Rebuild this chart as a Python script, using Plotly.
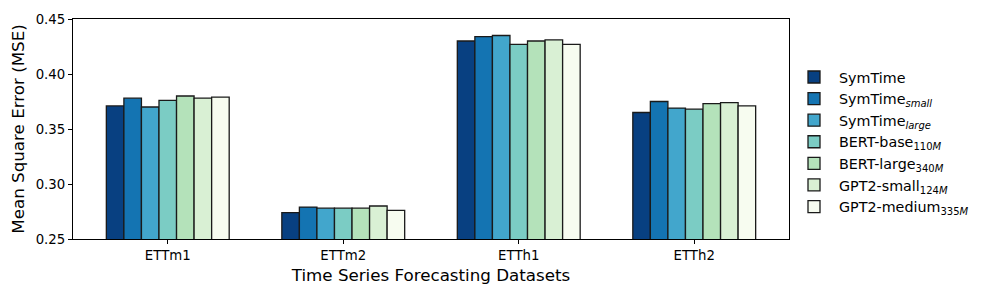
import plotly.graph_objects as go

datasets = ["ETTm1", "ETTm2", "ETTh1", "ETTh2"]
model_names = [
    "SymTime",
    "SymTime<sub><i>small</i></sub>",
    "SymTime<sub><i>large</i></sub>",
    "BERT-base<sub>110<i>M</i></sub>",
    "BERT-large<sub>340<i>M</i></sub>",
    "GPT2-small<sub>124<i>M</i></sub>",
    "GPT2-medium<sub>335<i>M</i></sub>",
]
symtime = [0.371, 0.274, 0.430, 0.365]
symtime_small = [0.378, 0.279, 0.434, 0.375]
symtime_large = [0.370, 0.278, 0.435, 0.369]
bert_base = [0.376, 0.278, 0.427, 0.368]
bert_large = [0.380, 0.278, 0.430, 0.373]
gpt2_small = [0.378, 0.280, 0.431, 0.374]
gpt2_medium = [0.379, 0.276, 0.427, 0.371]
series = [symtime, symtime_small, symtime_large, bert_base, bert_large, gpt2_small, gpt2_medium]
colors = ["#084081", "#1474b2", "#42a6cc", "#7bccc4", "#b4e2ba", "#d9f0d4", "#f7fcf0"]
y_ticks = [0.25, 0.30, 0.35, 0.40, 0.45]

FONT = "DejaVu Sans"

fig = go.Figure()
for name, vals, col in zip(model_names, series, colors):
    fig.add_trace(go.Bar(
        x=datasets, y=vals, name=name,
        marker=dict(color=col, line=dict(color="#1a1a1a", width=1.3)),
    ))

fig.update_layout(
    width=996, height=295,
    margin=dict(l=73, r=207, t=15, b=56),
    paper_bgcolor="white", plot_bgcolor="white",
    barmode="group", bargap=0.3, bargroupgap=0,
    font=dict(family=FONT, color="black", size=13.3),
    showlegend=True,
    legend=dict(
        x=1.0, xanchor="left", y=0.44, yanchor="middle",
        font=dict(family=FONT, size=14.3, color="black"),
        bgcolor="rgba(0,0,0,0)", borderwidth=0,
        tracegroupgap=0, itemwidth=40,
    ),
)
fig.update_xaxes(
    type="category", range=[-0.54, 3.54],
    showline=True, linecolor="black", linewidth=1.2, mirror=True,
    ticks="outside", ticklen=4, tickcolor="black", tickwidth=1,
    tickfont=dict(family=FONT, size=13.3, color="black"),
    title=dict(text="Time Series Forecasting Datasets",
               font=dict(family=FONT, size=16.7, color="black"), standoff=7),
    showgrid=False,
)
fig.update_yaxes(
    range=[0.25, 0.45], tickvals=y_ticks, ticktext=[f"{v:.2f}" for v in y_ticks],
    showline=True, linecolor="black", linewidth=1.2, mirror=True,
    ticks="outside", ticklen=4, tickcolor="black", tickwidth=1,
    tickfont=dict(family=FONT, size=13.3, color="black"),
    title=dict(text="Mean Square Error (MSE)",
               font=dict(family=FONT, size=16.7, color="black"), standoff=6),
    showgrid=False, zeroline=False,
)

fig.write_html("out.html", config={"displayModeBar": False},
               post_script="document.body.style.margin='0';")
